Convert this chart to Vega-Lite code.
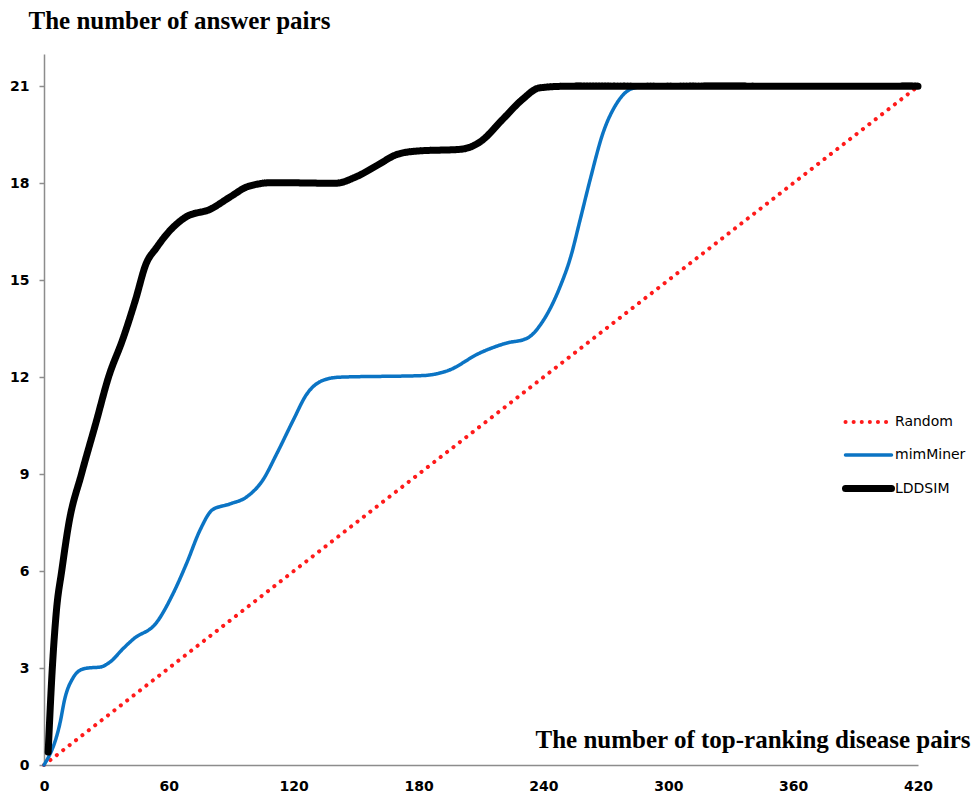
{
  "$schema": "https://vega.github.io/schema/vega-lite/v6.json",
  "autosize": {"type": "none"},
  "width": 874,
  "height": 711,
  "padding": {"left": 44, "top": 54, "right": 56, "bottom": 34},
  "background": "#ffffff",
  "config": {
    "view": {"stroke": null},
    "font": "DejaVu Sans"
  },
  "data": {
    "values": [
      {"method": "Random", "pairs": 0, "answers": 0},
      {"method": "Random", "pairs": 420, "answers": 21},

      {"method": "mimMiner", "pairs": 0, "answers": 0},
      {"method": "mimMiner", "pairs": 7.7, "answers": 1.3},
      {"method": "mimMiner", "pairs": 10, "answers": 2.05},
      {"method": "mimMiner", "pairs": 14, "answers": 2.7},
      {"method": "mimMiner", "pairs": 17, "answers": 2.92},
      {"method": "mimMiner", "pairs": 21, "answers": 3.0},
      {"method": "mimMiner", "pairs": 27, "answers": 3.03},
      {"method": "mimMiner", "pairs": 32, "answers": 3.2},
      {"method": "mimMiner", "pairs": 38, "answers": 3.6},
      {"method": "mimMiner", "pairs": 43, "answers": 3.9},
      {"method": "mimMiner", "pairs": 54, "answers": 4.4},
      {"method": "mimMiner", "pairs": 62, "answers": 5.3},
      {"method": "mimMiner", "pairs": 68.6, "answers": 6.25},
      {"method": "mimMiner", "pairs": 75, "answers": 7.27},
      {"method": "mimMiner", "pairs": 81, "answers": 7.9},
      {"method": "mimMiner", "pairs": 89, "answers": 8.07},
      {"method": "mimMiner", "pairs": 97.5, "answers": 8.3},
      {"method": "mimMiner", "pairs": 105, "answers": 8.8},
      {"method": "mimMiner", "pairs": 112, "answers": 9.65},
      {"method": "mimMiner", "pairs": 120, "answers": 10.7},
      {"method": "mimMiner", "pairs": 126, "answers": 11.45},
      {"method": "mimMiner", "pairs": 134, "answers": 11.9},
      {"method": "mimMiner", "pairs": 142, "answers": 12.0},
      {"method": "mimMiner", "pairs": 182, "answers": 12.05},
      {"method": "mimMiner", "pairs": 194, "answers": 12.2},
      {"method": "mimMiner", "pairs": 209.5, "answers": 12.75},
      {"method": "mimMiner", "pairs": 222, "answers": 13.05},
      {"method": "mimMiner", "pairs": 232, "answers": 13.2},
      {"method": "mimMiner", "pairs": 240, "answers": 13.76},
      {"method": "mimMiner", "pairs": 248, "answers": 14.8},
      {"method": "mimMiner", "pairs": 253, "answers": 15.7},
      {"method": "mimMiner", "pairs": 257.6, "answers": 16.86},
      {"method": "mimMiner", "pairs": 262.4, "answers": 18.1},
      {"method": "mimMiner", "pairs": 268.6, "answers": 19.55},
      {"method": "mimMiner", "pairs": 275.3, "answers": 20.48},
      {"method": "mimMiner", "pairs": 283, "answers": 20.94},
      {"method": "mimMiner", "pairs": 290, "answers": 21},
      {"method": "mimMiner", "pairs": 420, "answers": 21},

      {"method": "LDDSIM", "pairs": 2, "answers": 0.4},
      {"method": "LDDSIM", "pairs": 4, "answers": 3},
      {"method": "LDDSIM", "pairs": 6, "answers": 4.8},
      {"method": "LDDSIM", "pairs": 8.5, "answers": 6},
      {"method": "LDDSIM", "pairs": 12, "answers": 7.5},
      {"method": "LDDSIM", "pairs": 18, "answers": 9},
      {"method": "LDDSIM", "pairs": 25, "answers": 10.6},
      {"method": "LDDSIM", "pairs": 31, "answers": 12},
      {"method": "LDDSIM", "pairs": 38, "answers": 13.2},
      {"method": "LDDSIM", "pairs": 44, "answers": 14.4},
      {"method": "LDDSIM", "pairs": 49, "answers": 15.5},
      {"method": "LDDSIM", "pairs": 54, "answers": 16},
      {"method": "LDDSIM", "pairs": 60, "answers": 16.5},
      {"method": "LDDSIM", "pairs": 68, "answers": 16.95},
      {"method": "LDDSIM", "pairs": 80, "answers": 17.2},
      {"method": "LDDSIM", "pairs": 90, "answers": 17.6},
      {"method": "LDDSIM", "pairs": 98, "answers": 17.9},
      {"method": "LDDSIM", "pairs": 110, "answers": 18.02},
      {"method": "LDDSIM", "pairs": 140, "answers": 18},
      {"method": "LDDSIM", "pairs": 150, "answers": 18.2},
      {"method": "LDDSIM", "pairs": 160, "answers": 18.55},
      {"method": "LDDSIM", "pairs": 170, "answers": 18.9},
      {"method": "LDDSIM", "pairs": 180, "answers": 19.0},
      {"method": "LDDSIM", "pairs": 200, "answers": 19.05},
      {"method": "LDDSIM", "pairs": 210, "answers": 19.3},
      {"method": "LDDSIM", "pairs": 220, "answers": 19.95},
      {"method": "LDDSIM", "pairs": 230, "answers": 20.6},
      {"method": "LDDSIM", "pairs": 238, "answers": 20.95},
      {"method": "LDDSIM", "pairs": 250, "answers": 21},
      {"method": "LDDSIM", "pairs": 420, "answers": 21}
    ]
  },
  "mark": {"type": "line", "interpolate": "monotone", "strokeCap": "round", "strokeJoin": "round"},
  "encoding": {
    "x": {
      "field": "pairs",
      "type": "quantitative",
      "scale": {"domain": [0, 420], "nice": false, "zero": true},
      "axis": {
        "values": [0, 60, 120, 180, 240, 300, 360, 420],
        "grid": false,
        "ticks": false,
        "domainColor": "#8c8c8c",
        "domainWidth": 1.5,
        "labelFont": "DejaVu Sans",
        "labelFontWeight": "bold",
        "labelFontSize": 14,
        "labelColor": "#000000",
        "labelPadding": 14,
        "labelFlush": false,
        "title": "The number of top-ranking disease pairs",
        "titleFont": "Liberation Serif",
        "titleFontWeight": "bold",
        "titleFontSize": 25,
        "titleColor": "#000000",
        "titleAnchor": null,
        "titleAlign": "right",
        "titleBaseline": "alphabetic",
        "titleX": 926,
        "titleY": -18
      }
    },
    "y": {
      "field": "answers",
      "type": "quantitative",
      "scale": {"domain": [0, 22], "nice": false},
      "axis": {
        "values": [0, 3, 6, 9, 12, 15, 18, 21],
        "grid": false,
        "tickSize": 5,
        "tickColor": "#8c8c8c",
        "tickWidth": 1.5,
        "domainColor": "#8c8c8c",
        "domainWidth": 1.5,
        "labelFont": "DejaVu Sans",
        "labelFontWeight": "bold",
        "labelFontSize": 14,
        "labelColor": "#000000",
        "labelPadding": 10,
        "title": "The number of answer pairs",
        "titleFont": "Liberation Serif",
        "titleFontWeight": "bold",
        "titleFontSize": 25,
        "titleColor": "#000000",
        "titleAngle": 0,
        "titleAnchor": null,
        "titleAlign": "left",
        "titleBaseline": "alphabetic",
        "titleX": -16,
        "titleY": -26
      }
    },
    "color": {
      "field": "method",
      "type": "nominal",
      "sort": ["Random", "mimMiner", "LDDSIM"],
      "scale": {"domain": ["Random", "mimMiner", "LDDSIM"], "range": ["#ff1a1a", "#0b74c4", "#000000"]},
      "legend": {
        "title": null,
        "orient": "none",
        "legendX": 798,
        "legendY": 343,
        "padding": 0,
        "symbolType": "stroke",
        "symbolSize": 2116,
        "labelFont": "DejaVu Sans",
        "labelFontSize": 14,
        "labelColor": "#000000",
        "labelOffset": 0,
        "rowPadding": -1,
        "encode": {"symbols": {"update": {"strokeCap": {"value": "round"}}}}
      }
    },
    "strokeDash": {
      "field": "method",
      "type": "nominal",
      "sort": ["Random", "mimMiner", "LDDSIM"],
      "scale": {"domain": ["Random", "mimMiner", "LDDSIM"], "range": [[0.1, 8], [1, 0], [1, 0]]}
    },
    "strokeWidth": {
      "field": "method",
      "type": "ordinal",
      "sort": ["Random", "mimMiner", "LDDSIM"],
      "scale": {"type": "ordinal", "domain": ["Random", "mimMiner", "LDDSIM"], "range": [4, 3.5, 7]}
    },
    "order": {"field": "pairs", "type": "quantitative"}
  }
}
